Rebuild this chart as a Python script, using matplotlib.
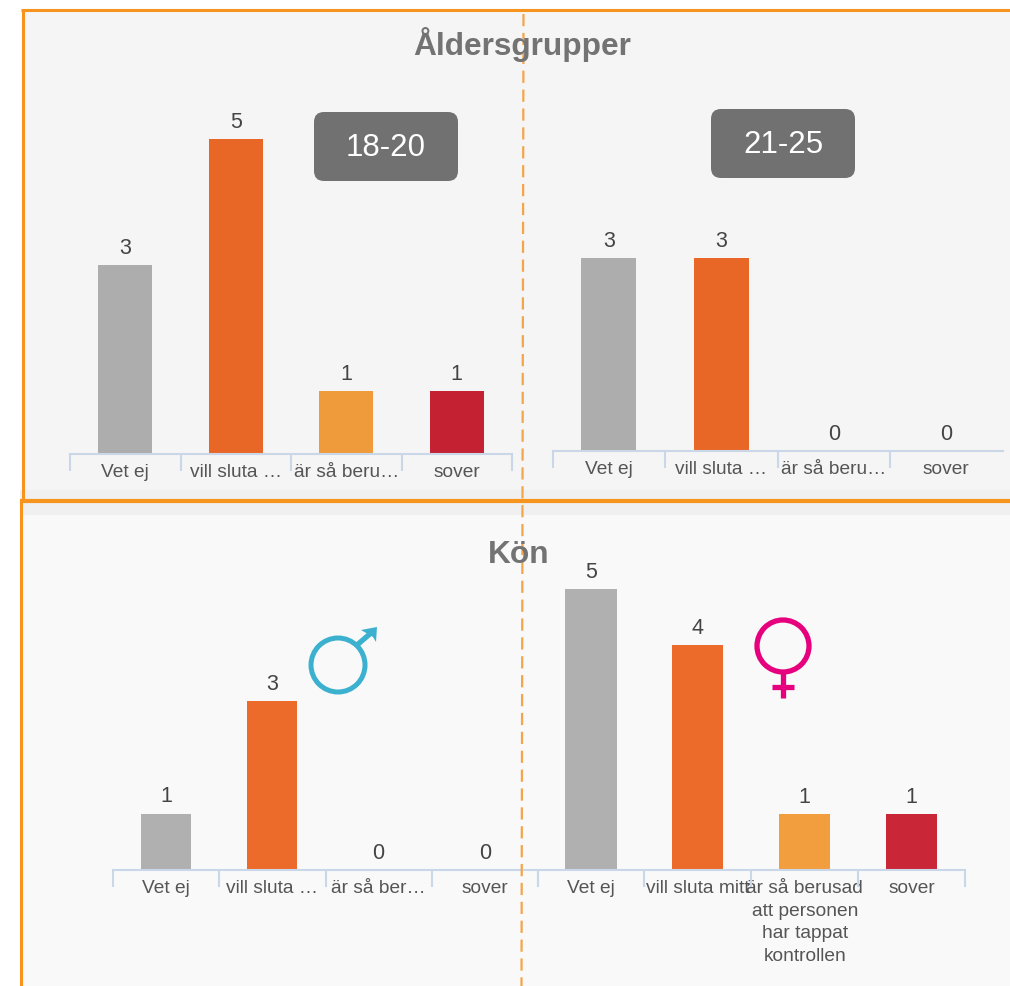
import matplotlib
matplotlib.use("Agg")
import matplotlib.pyplot as plt
from matplotlib.patches import Rectangle, FancyBboxPatch, Circle

plt.rcParams['font.family'] = ['Liberation Sans', 'DejaVu Sans']

W, H = 1010, 986

# values
age_18_20 = [3, 5, 1, 1]
age_21_25 = [3, 3, 0, 0]
men = [1, 3, 0, 0]
women = [5, 4, 1, 1]

labels_18_20 = ['Vet ej', 'vill sluta …', 'är så beru…', 'sover']
labels_21_25 = ['Vet ej', 'vill sluta …', 'är så beru…', 'sover']
labels_men = ['Vet ej', 'vill sluta …', 'är så ber…', 'sover']
labels_women = ['Vet ej', 'vill sluta mitt', 'är så berusad\natt personen\nhar tappat\nkontrollen', 'sover']

colors_top = ['#adadad', '#e96726', '#ef9b3b', '#c42233']
colors_bottom = ['#b0b0b0', '#ed6b2a', '#f29d3e', '#c92638']

ORANGE = '#f7941d'
AXIS = '#c9d7e8'
DARK = '#737373'

fig = plt.figure(figsize=(W / 100, H / 100), dpi=100, facecolor='white')

# background in pixel coordinates
bg = fig.add_axes([0, 0, 1, 1], zorder=0)
bg.set_xlim(0, W)
bg.set_ylim(H, 0)
bg.axis('off')
bg.add_patch(Rectangle((23, 11), W - 23, 480, fc='#f5f5f5', ec='none'))
bg.add_patch(Rectangle((20, 490), W - 20, 25, fc='#f0f0f0', ec='none'))
bg.add_patch(Rectangle((22, 515), W - 22, H - 515, fc='#f9f9f9', ec='none'))


def panel(left, right, base, unit, values, labels, colors, width, last_tick=True):
    # axes box runs from the baseline up to the top of the picture
    ax = fig.add_axes([left / W, 1 - base / H, (right - left) / W, base / H], zorder=1)
    ax.patch.set_alpha(0)
    ax.set_xlim(-0.5, 3.5)
    ax.set_ylim(0, base / unit)
    ax.bar(range(4), values, width=width, color=colors)
    for i, v in enumerate(values):
        ax.annotate(str(v), (i, v), xytext=(0, 4.5), textcoords='offset points',
                    ha='center', va='bottom', fontsize=15.5, color='#444444')
    for s in ['top', 'left', 'right']:
        ax.spines[s].set_visible(False)
    ax.spines['bottom'].set_color(AXIS)
    ax.spines['bottom'].set_linewidth(1.5)
    ax.set_yticks([])
    ax.set_xticks(range(4))
    ax.set_xticklabels(labels, fontsize=13.8, color='#555555', linespacing=1.45)
    ax.tick_params(axis='x', which='major', length=0, pad=7)
    ax.set_xticks([-0.5, 0.5, 1.5, 2.5, 3.5] if last_tick else [-0.5, 0.5, 1.5, 2.5], minor=True)
    ax.tick_params(axis='x', which='minor', length=12, width=1.5, color=AXIS)
    return ax


panel(70, 512, 454, 63.0, age_18_20, labels_18_20, colors_top, 0.49)
panel(552.5, 1002.5, 451, 64.3, age_21_25, labels_21_25, colors_top, 0.49, last_tick=False)
panel(113, 538, 870, 56.4, men, labels_men, colors_bottom, 0.47)
panel(537.5, 965, 870, 56.2, women, labels_women, colors_bottom, 0.48)

# overlay with frame, titles, badges and symbols
top = fig.add_axes([0, 0, 1, 1], zorder=2)
top.set_xlim(0, W)
top.set_ylim(H, 0)
top.axis('off')
top.patch.set_alpha(0)

top.plot([22.5, 22.5], [10, 500], color=ORANGE, lw=2.2, solid_capstyle='butt')
top.plot([21, W], [10, 10], color=ORANGE, lw=2.2, solid_capstyle='butt')
top.plot([20, W], [500.5, 500.5], color=ORANGE, lw=3, solid_capstyle='butt')
top.plot([21, 21], [500, H], color=ORANGE, lw=2.2, solid_capstyle='butt')

top.text(522, 45, 'Åldersgrupper', fontsize=22.8, fontweight='bold', color=DARK, ha='center', va='center')
top.text(519, 555, 'Kön', fontsize=22.8, fontweight='bold', color=DARK, ha='center', va='center')

for x0, y0, txt in [(314, 112, '18-20'), (711, 109, '21-25')]:
    top.add_patch(FancyBboxPatch((x0 + 10, y0 + 10), 124, 49, boxstyle='round,pad=10,rounding_size=10',
                                 fc='#717171', ec='none'))
    top.text(x0 + 72, y0 + 36, txt, fontsize=22.5, color='white', ha='center', va='center')

# male symbol
BLUE = '#3cb1cf'
top.add_patch(Circle((338, 665), 27, fc='none', ec=BLUE, lw=3.6))
top.plot([357, 371], [645, 633], color=BLUE, lw=3.8, solid_capstyle='butt')
top.fill([361, 377, 376, 373], [630, 627, 642, 637], color=BLUE, lw=0)

# female symbol
PINK = '#e6007e'
top.add_patch(Circle((783, 646), 26, fc='none', ec=PINK, lw=3.8))
top.plot([783, 783], [672, 698], color=PINK, lw=3.8, solid_capstyle='butt')
top.plot([772, 794], [687, 687], color=PINK, lw=3.8, solid_capstyle='butt')

# dashed centre line
top.plot([523.5, 521.5], [14, H], color='#f4a54a', lw=1.6, dashes=(5.5, 3))

fig.savefig('out.png', dpi=100)
